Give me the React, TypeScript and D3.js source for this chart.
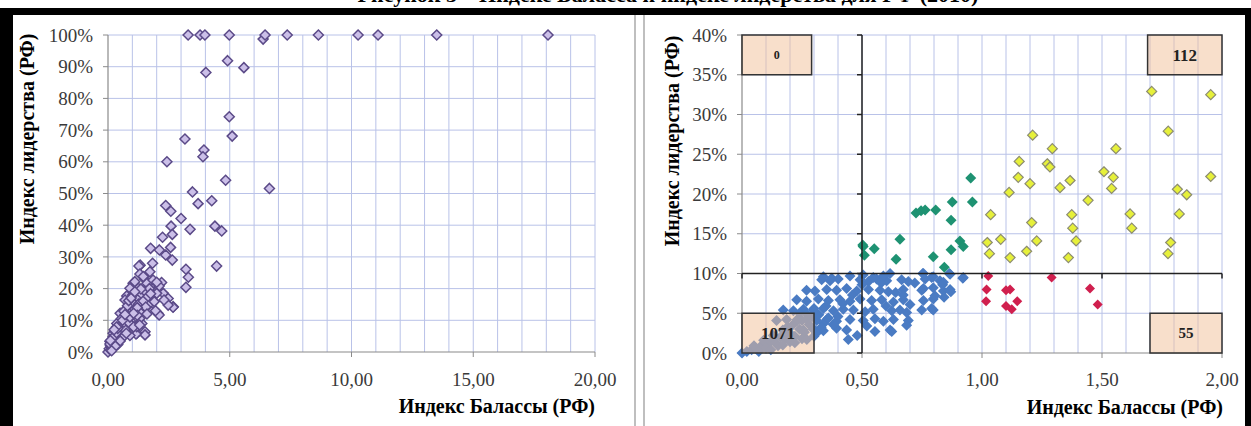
import * as d3 from 'd3';

// left panel: full range, [Balassa index, leadership %]
const leftPoints: [number, number][] = [
  [3.29, 100], [3.78, 100], [3.98, 100], [4.98, 100], [6.37, 98.7], [6.45, 100], [7.36, 100], [8.64, 100],
  [10.27, 100], [11.09, 100], [13.5, 100], [18.07, 100],
  [4.91, 91.9], [5.58, 89.7], [4.02, 88.2], [4.98, 74.2], [5.1, 68.1], [3.16, 67.2], [3.94, 63.7], [3.9, 61.6],
  [2.42, 60.0], [4.83, 54.2], [6.63, 51.6], [3.47, 50.5], [3.7, 46.8], [4.26, 47.7], [2.37, 46.2], [2.58, 44.4],
  [3.0, 42.1], [3.37, 38.7], [2.59, 39.7], [2.64, 37.1], [2.24, 36.2], [1.75, 32.7], [2.11, 32.2], [2.57, 33.0],
  [2.37, 30.6], [2.64, 29.0], [1.83, 28.0], [1.32, 27.4], [3.2, 26.1], [3.3, 23.6], [3.2, 20.4], [4.39, 39.7],
  [4.67, 38.2], [4.46, 27.1], [1.27, 27.1], [1.31, 24.6], [1.03, 21.7], [1.52, 22.9], [1.85, 21.7], [2.2, 21.9],
  [2.05, 19.6], [2.27, 18.5], [2.47, 16.9], [2.68, 14.3], [2.05, 12.2], [1.6, 16.6], [1.2, 17.4], [0.77, 17.7],
  [0.98, 14.3], [1.38, 14.5], [1.72, 13.2], [1.04, 10.6], [1.39, 9.0], [0.63, 11.1], [0.49, 8.0], [1.52, 6.4],
  [1.19, 5.9], [0.83, 7.5], [0.21, 4.8], [0, 0], [1.6, 21.7], [2.1, 20.8], [1.65, 14.8], [2.1, 11.7],
  [1.52, 5.4], [1.15, 5.7], [2.67, 14.1], [2.47, 14.8], [2.3, 16.4], [2.0, 18.5], [1.25, 20.1], [1.01, 18],
  [1.1, 22.2], [0.9, 20.1], [0.7, 16.4], [0.77, 13.2], [0.5, 12.2], [0.36, 9.0], [0.21, 5.9], [0.08, 3.3],
  [0.42, 3.8], [0.56, 7.5], [0.97, 10.1], [1.31, 10.6], [1.18, 8.0], [0.83, 6.4], [1.72, 25.3], [1.85, 22.7],
  [1.45, 23.8], [0.05, 1], [0.1, 2], [0.15, 1.5], [0.2, 3], [0.25, 2.2], [0.3, 4], [0.35, 3], [0.4, 5.5],
  [0.45, 4.2], [0.5, 6.8], [0.55, 5.1], [0.6, 8.5], [0.65, 6.2], [0.7, 9.8], [0.3, 6.5], [0.45, 8.2],
  [0.55, 10.5], [0.75, 12.4], [0.8, 10.2], [0.85, 11.8], [0.9, 8.6], [0.95, 12.8], [1.0, 15.6], [1.1, 13.5],
  [1.15, 11.2], [1.25, 15.1], [1.3, 12.6], [1.4, 18.2], [1.45, 16.1], [1.5, 19.3], [1.55, 14.2], [1.6, 12.0],
  [1.65, 17.6], [1.7, 20.0], [1.75, 18.4], [1.9, 15.9], [1.95, 13.0], [2.0, 22.0], [0.12, 0.8], [0.2, 1.2],
  [0.08, 2.5], [0.6, 4.6], [0.7, 7.2], [0.65, 9.4], [0.4, 2.4], [0.5, 3.5], [0.85, 9.3], [1.05, 7.9],
  [0.3, 1.8], [0.15, 0.4], [0.9, 5.2], [0.75, 5.9], [1.2, 14.0], [1.35, 19.9], [0.9, 11.0],
  [0.25, 5.0], [0.35, 6.1], [0.4, 7.4], [0.6, 10.0], [0.65, 12.9], [0.8, 14.6], [0.85, 16.2], [0.95, 17.0],
  [1.1, 19.0], [1.2, 11.6], [1.05, 12.2], [0.7, 11.8], [0.35, 7.9], [0.1, 3.6], [0.25, 7.0], [1.3, 8.5],
];

// right panel: zoom 0..2 / 0..40%, split by quadrant
const bluePoints: [number, number][] = [
  [0.332, 9.2], [0.367, 9.1], [0.401, 9.3], [0.492, 9.2], [0.527, 9.0], [0.561, 9.3], [0.603, 9.1], [0.665, 9.2],
  [0.693, 9.0], [0.763, 9.3], [0.825, 9.1], [0.339, 9.6], [0.374, 9.4], [0.505, 9.8], [0.547, 9.5], [0.589, 9.7],
  [0.617, 10.0], [0.753, 10.0], [0.79, 9.5], [0.864, 10.0], [0.922, 9.5],
  [0.269, 7.9], [0.304, 7.8], [0.353, 8.0], [0.394, 7.9], [0.436, 8.1], [0.478, 7.8], [0.527, 8.0], [0.575, 7.9],
  [0.61, 7.7], [0.672, 8.0], [0.749, 7.9], [0.797, 8.2], [0.839, 7.8], [0.867, 8.0],
  [0.228, 6.7], [0.269, 6.5], [0.318, 6.8], [0.36, 6.6], [0.408, 6.7], [0.45, 6.5], [0.492, 6.8], [0.54, 6.6],
  [0.582, 6.7], [0.631, 6.4], [0.672, 6.7], [0.756, 6.6], [0.797, 6.8],
  [0.172, 5.4], [0.214, 5.3], [0.256, 5.5], [0.297, 5.4], [0.339, 5.6], [0.381, 5.3], [0.422, 5.5], [0.464, 5.4],
  [0.513, 5.2], [0.547, 5.5], [0.624, 5.3], [0.658, 5.4], [0.686, 5.1],
  [0.144, 4.1], [0.186, 4.2], [0.228, 4.0], [0.269, 4.3], [0.311, 4.1], [0.353, 4.2], [0.394, 4.0], [0.45, 4.2],
  [0.505, 4.1], [0.554, 4.3], [0.589, 4.0], [0.631, 4.2], [0.693, 4.1],
  [0.256, 2.9], [0.297, 3.0], [0.339, 2.8], [0.394, 3.1], [0.436, 2.9], [0.554, 2.7], [0.617, 2.9], [0.443, 1.7],
  [0.797, 9.6], [0.839, 8.9], [0.867, 9.9], [0.92, 9.4], [0.804, 7.2], [0.842, 7.0], [0.87, 7.7], [0.836, 8.6],
  [0.797, 5.4], [0.624, 2.7], [0.686, 3.5], [0.749, 5.4], [0.79, 5.6], [0.672, 7.3], [0.756, 8.1], [0.756, 10.0],
  [0, 0], [0.02, 0.2], [0.04, 0.4], [0.06, 0.5], [0.08, 0.9], [0.1, 1.1], [0.12, 1.4], [0.14, 1.3], [0.16, 2.0],
  [0.18, 1.8], [0.2, 2.5], [0.22, 2.1], [0.24, 3.0], [0.26, 2.6], [0.28, 3.6], [0.3, 3.0], [0.05, 0.9],
  [0.09, 1.6], [0.13, 2.2], [0.17, 2.9], [0.21, 3.5], [0.25, 4.1], [0.29, 4.6], [0.1, 0.6], [0.15, 0.9],
  [0.2, 1.4], [0.25, 1.8], [0.3, 2.1], [0.19, 3.3], [0.23, 4.2], [0.27, 4.9], [0.32, 4.8], [0.34, 3.7],
  [0.36, 4.4], [0.12, 0.4], [0.07, 0.2], [0.17, 1.0], [0.22, 1.3], [0.27, 1.7], [0.31, 2.5], [0.33, 3.2],
  [0.38, 3.6], [0.4, 4.6], [0.35, 5.9], [0.3, 5.6], [0.24, 5.0], [0.42, 6.2], [0.46, 7.3], [0.5, 8.6],
  [0.58, 8.8], [0.64, 7.6], [0.7, 6.1], [0.52, 3.4], [0.48, 2.2], [0.6, 5.9], [0.72, 8.8], [0.45, 9.7],
];

const tealPoints: [number, number][] = [
  [0.953, 22.0], [0.876, 19.0], [0.96, 19.0], [0.725, 17.6], [0.746, 17.9], [0.763, 18.0], [0.807, 18.0],
  [0.871, 16.7], [0.658, 14.3], [0.908, 14.1], [0.922, 13.4], [0.871, 13.0], [0.505, 13.4], [0.551, 13.1],
  [0.51, 12.3], [0.642, 11.8], [0.797, 12.1], [0.843, 10.8], [0.503, 13.6],
];

const redPoints: [number, number][] = [
  [1.026, 9.7], [1.29, 9.5], [1.019, 8.0], [1.1, 7.9], [1.117, 8.0], [1.45, 8.1], [1.017, 6.5], [1.1, 5.9],
  [1.124, 5.5], [1.147, 6.5], [1.482, 6.1],
];

const yellowPoints: [number, number][] = [
  [1.707, 32.9], [1.953, 32.5], [1.776, 27.9], [1.211, 27.4], [1.293, 25.7], [1.558, 25.7], [1.155, 24.1],
  [1.272, 23.8], [1.283, 23.4], [1.508, 22.8], [1.547, 22.1], [1.953, 22.2], [1.151, 22.1], [1.2, 21.3],
  [1.367, 21.7], [1.325, 20.8], [1.54, 20.7], [1.814, 20.6], [1.853, 19.9], [1.113, 20.2], [1.442, 19.2],
  [1.036, 17.4], [1.374, 17.4], [1.617, 17.5], [1.822, 17.5], [1.207, 16.4], [1.378, 15.7], [1.624, 15.7],
  [1.022, 13.9], [1.078, 14.3], [1.228, 14.1], [1.392, 14.1], [1.786, 13.9], [1.031, 12.5], [1.117, 12.0],
  [1.186, 12.8], [1.36, 12.0], [1.775, 12.5],
];

const quadBoxes = [
  { x0: 0, x1: 0.29, y0: 35, y1: 40 },
  { x0: 1.69, x1: 2, y0: 35, y1: 40 },
  { x0: 0, x1: 0.3, y0: 0, y1: 5 },
  { x0: 1.7, x1: 2, y0: 0, y1: 5 },
];
const boxCounts = ['0', '112', '1071', '55'];
const boxFont = [12, 17, 17, 15];

const leftXTicks = [0, 5, 10, 15, 20];
const leftYTicks = [0, 10, 20, 30, 40, 50, 60, 70, 80, 90, 100];
const rightXTicks = [0, 0.5, 1, 1.5, 2];
const rightYTicks = [0, 5, 10, 15, 20, 25, 30, 35, 40];

const serif = "'Liberation Serif', 'DejaVu Serif', serif";
const txt = { fontFamily: serif };
const gridColor = '#b9c2e8';
const axisColor = '#8a8a8a';

const diamond = (r: number) => `M0,${-r}L${r},0L0,${r}L${-r},0Z`;
const fmtX = (d: number) => d.toFixed(2).replace('.', ',');

export default function App() {
  const lx = d3.scaleLinear().domain([0, 20]).range([108, 595]);
  const ly = d3.scaleLinear().domain([0, 100]).range([352, 35]);
  const rx = d3.scaleLinear().domain([0, 2]).range([742, 1222]);
  const ry = d3.scaleLinear().domain([0, 40]).range([353, 35]);

  const lGridX = d3.range(1, 21);
  const rGridX = d3.range(1, 21).map(i => i / 10);

  return (
    <svg width={1251} height={426} style={{ position: 'absolute', left: 0, top: 0, background: '#fff' }}>
      {/* caption, cut off at the top like in the source */}
      <text x={668} y={2} textAnchor="middle" fontSize={22} fontWeight="bold" style={txt}>
        Рисунок 3 – Индекс Баласса и индекс лидерства для РФ (2010)
      </text>
      <rect x={0} y={8} width={1251} height={7} fill="#000" />
      <rect x={0} y={8} width={13} height={418} fill="#000" />
      <rect x={1245} y={8} width={6} height={418} fill="#000" />
      <line x1={635} x2={635} y1={15} y2={426} stroke="#aaa" strokeWidth={1.5} />
      <line x1={644} x2={644} y1={15} y2={426} stroke="#aaa" strokeWidth={1.5} />

      {/* left panel */}
      <g>
        {lGridX.map(v => (
          <line key={'lgx' + v} x1={lx(v)} x2={lx(v)} y1={ly(100)} y2={ly(0)} stroke={gridColor} />
        ))}
        {leftYTicks.filter(t => t > 0).map(t => (
          <line key={'lgy' + t} x1={lx(0)} x2={lx(20)} y1={ly(t)} y2={ly(t)} stroke={gridColor} />
        ))}
        <line x1={lx(0)} x2={lx(0)} y1={ly(100)} y2={ly(0)} stroke={axisColor} strokeWidth={1.2} />
        <line x1={lx(0)} x2={lx(20)} y1={ly(0)} y2={ly(0)} stroke={axisColor} strokeWidth={1.2} />
        {leftYTicks.map(t => (
          <g key={'lyt' + t}>
            <line x1={lx(0) - 5} x2={lx(0)} y1={ly(t)} y2={ly(t)} stroke={axisColor} />
            <text x={93} y={ly(t)} dy="0.35em" textAnchor="end" fontSize={19} fill="#3a3a3a" style={txt}>{t}%</text>
          </g>
        ))}
        {leftXTicks.map(t => (
          <g key={'lxt' + t}>
            <line x1={lx(t)} x2={lx(t)} y1={ly(0)} y2={ly(0) + 5} stroke={axisColor} />
            <text x={lx(t)} y={ly(0) + 27} dy="0.35em" textAnchor="middle" fontSize={19} fill="#3a3a3a" style={txt}>
              {fmtX(t)}
            </text>
          </g>
        ))}
        {leftPoints.map((d, i) => (
          <path key={'lp' + i} d={diamond(5)} transform={`translate(${lx(d[0])},${ly(d[1])})`}
            fill="#cbbfe8" stroke="#5b4a88" strokeWidth={1.5} />
        ))}
        <text transform={`translate(34,139) rotate(-90)`} textAnchor="middle" fontSize={20} fontWeight="bold" style={txt}>
          Индекс лидерства (РФ)
        </text>
        <text x={595} y={413} textAnchor="end" fontSize={20} fontWeight="bold" style={txt}>Индекс Баласcы (РФ)</text>
      </g>

      {/* right panel */}
      <g>
        {rGridX.map(v => (
          <line key={'rgx' + v} x1={rx(v)} x2={rx(v)} y1={ry(40)} y2={ry(0)} stroke={gridColor} />
        ))}
        {rightYTicks.filter(t => t > 0).map(t => (
          <line key={'rgy' + t} x1={rx(0)} x2={rx(2)} y1={ry(t)} y2={ry(t)} stroke={gridColor} />
        ))}
        <line x1={rx(0)} x2={rx(0)} y1={ry(40)} y2={ry(0)} stroke={axisColor} strokeWidth={1.2} />
        <line x1={rx(0)} x2={rx(2)} y1={ry(0)} y2={ry(0)} stroke={axisColor} strokeWidth={1.2} />
        {rightYTicks.map(t => (
          <g key={'ryt' + t}>
            <line x1={rx(0) - 5} x2={rx(0)} y1={ry(t)} y2={ry(t)} stroke={axisColor} />
            <text x={727} y={ry(t)} dy="0.35em" textAnchor="end" fontSize={19} fill="#3a3a3a" style={txt}>{t}%</text>
          </g>
        ))}
        {rightXTicks.map(t => (
          <g key={'rxt' + t}>
            <line x1={rx(t)} x2={rx(t)} y1={ry(0)} y2={ry(0) + 5} stroke={axisColor} />
            <text x={rx(t)} y={ry(0) + 26} dy="0.35em" textAnchor="middle" fontSize={19} fill="#3a3a3a" style={txt}>
              {fmtX(t)}
            </text>
          </g>
        ))}
        {bluePoints.map((d, i) => (
          <path key={'bp' + i} d={diamond(5.5)} transform={`translate(${rx(d[0])},${ry(d[1])})`} fill="#4a7bc3" />
        ))}
        {tealPoints.map((d, i) => (
          <path key={'tp' + i} d={diamond(5.5)} transform={`translate(${rx(d[0])},${ry(d[1])})`} fill="#1e9272" />
        ))}
        {redPoints.map((d, i) => (
          <path key={'rp' + i} d={diamond(5)} transform={`translate(${rx(d[0])},${ry(d[1])})`} fill="#d01f4e" />
        ))}
        {yellowPoints.map((d, i) => (
          <path key={'yp' + i} d={diamond(5)} transform={`translate(${rx(d[0])},${ry(d[1])})`}
            fill="#e6f03a" stroke="#8c8c70" strokeWidth={1.2} />
        ))}
        {/* quadrant dividers */}
        <line x1={rx(0.5)} x2={rx(0.5)} y1={ry(40)} y2={ry(0)} stroke="#222" strokeWidth={1.5} />
        {rightYTicks.map(t => (
          <line key={'qvt' + t} x1={rx(0.5) - 5} x2={rx(0.5)} y1={ry(t)} y2={ry(t)} stroke="#222" strokeWidth={1.5} />
        ))}
        <line x1={rx(0)} x2={rx(2)} y1={ry(10)} y2={ry(10)} stroke="#222" strokeWidth={1.5} />
        {rightXTicks.map(t => (
          <line key={'qht' + t} x1={rx(t)} x2={rx(t)} y1={ry(10)} y2={ry(10) + 5} stroke="#222" strokeWidth={1.5} />
        ))}
        {quadBoxes.map((b, i) => (
          <g key={'qb' + i}>
            <rect x={rx(b.x0)} y={ry(b.y1)} width={rx(b.x1) - rx(b.x0)} height={ry(b.y0) - ry(b.y1)}
              fill="#f2bf98" fillOpacity={0.5} stroke="#333" strokeWidth={1.5} />
            <text x={(rx(b.x0) + rx(b.x1)) / 2} y={(ry(b.y0) + ry(b.y1)) / 2} dy="0.35em" textAnchor="middle"
              fontSize={boxFont[i]} fontWeight="bold" fill="#222" style={txt}>{boxCounts[i]}</text>
          </g>
        ))}
        <text transform={`translate(679,141) rotate(-90)`} textAnchor="middle" fontSize={20} fontWeight="bold" style={txt}>
          Индекс лидерства (РФ)
        </text>
        <text x={1223} y={414} textAnchor="end" fontSize={20} fontWeight="bold" style={txt}>Индекс Баласcы (РФ)</text>
      </g>
    </svg>
  );
}
